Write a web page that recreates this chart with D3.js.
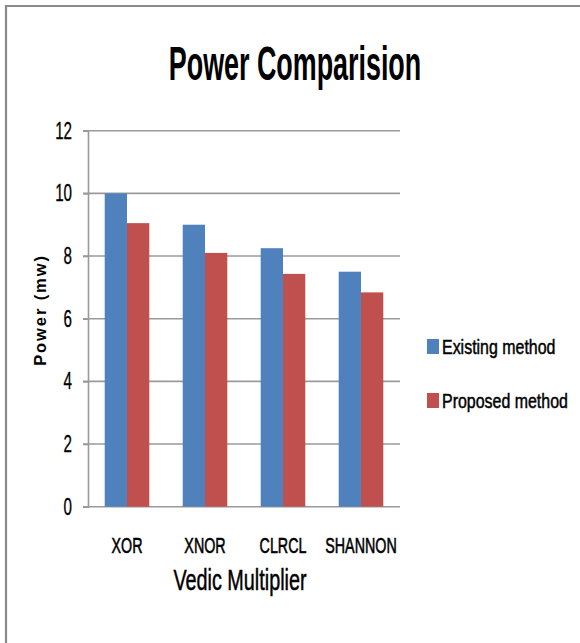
<!DOCTYPE html>
<html>
<head>
<meta charset="utf-8">
<script src="https://cdn.jsdelivr.net/npm/d3@7"></script>
<style>
  body { margin: 0; background: #fff; }
  text { font-family: "Liberation Sans", Arial, sans-serif; fill: #000; }
</style>
</head>
<body>
<div id="chart"></div>
<script>
// chart data
const categories = ["XOR", "XNOR", "CLRCL", "SHANNON"];
const seriesNames = ["Existing method", "Proposed method"];
const existing = [10, 9, 8.25, 7.5];
const proposed = [9.05, 8.1, 7.43, 6.84];
const yTicks = [0, 2, 4, 6, 8, 10, 12];
const colors = ["#4F81BD", "#C0504D"];

const width = 580;
const height = 643;
const margin = { top: 130.7, left: 88, bottom: 136.3, right: 180 };

const svg = d3.select("#chart").append("svg")
  .attr("width", width)
  .attr("height", height);

// the source picture is stretched vertically, so texts are squeezed in x
const label = (parent, x, y, k, txt) => parent.append("g")
  .attr("transform", `translate(${x},${y}) scale(${k},1)`)
  .append("text")
  .text(txt);

// outer frame
svg.append("path")
  .attr("d", "M6,650 L6,6 L590,6")
  .attr("fill", "none")
  .attr("stroke", "#8a8a8a")
  .attr("stroke-width", 2.2);

const x0 = d3.scaleBand().domain(categories).range([margin.left, width - margin.right]);
const x1 = d3.scaleBand().domain(seriesNames).range([0, x0.bandwidth()])
  .paddingInner(0).paddingOuter(0.75);
const y = d3.scaleLinear().domain([0, 12]).range([height - margin.bottom, margin.top]);

// gridlines
svg.append("g")
  .selectAll("line")
  .data(yTicks)
  .join("line")
  .attr("x1", margin.left - 5)
  .attr("x2", width - margin.right)
  .attr("y1", (d) => y(d))
  .attr("y2", (d) => y(d))
  .attr("stroke", "#9a9a9a")
  .attr("stroke-width", 1.6);

// bars
const data = categories.map((c, i) => ({ cat: c, vals: [existing[i], proposed[i]] }));
const groups = svg.append("g")
  .selectAll("g")
  .data(data)
  .join("g")
  .attr("transform", (d) => `translate(${x0(d.cat)},0)`);

groups.selectAll("rect")
  .data((d) => d.vals.map((v, j) => ({ s: seriesNames[j], v: v, j: j })))
  .join("rect")
  .attr("x", (d) => x1(d.s))
  .attr("width", x1.bandwidth())
  .attr("y", (d) => y(d.v))
  .attr("height", (d) => y(0) - y(d.v))
  .attr("fill", (d) => colors[d.j]);

// y axis
const tk = 0.66;
const yAxis = svg.append("g")
  .attr("transform", `translate(${margin.left},0)`)
  .call(d3.axisLeft(y).tickValues(yTicks).tickSize(5).tickPadding(11));
yAxis.select(".domain").attr("stroke", "#9a9a9a").attr("stroke-width", 1.6);
yAxis.selectAll(".tick line").attr("stroke", "#9a9a9a").attr("stroke-width", 1.6);
yAxis.selectAll(".tick text")
  .attr("font-size", 23)
  .attr("font-family", "Liberation Sans, Arial, sans-serif")
  .attr("fill", "#000")
  .attr("stroke", "#000")
  .attr("stroke-width", 0.3)
  .attr("x", -16 / tk)
  .attr("transform", `scale(${tk},1)`);

// x labels
const xl = svg.append("g");
categories.forEach((c) => {
  label(xl, x0(c) + x0.bandwidth() / 2, 553, 0.65, c)
    .attr("text-anchor", "middle")
    .attr("font-size", 22)
    .attr("stroke", "#000")
    .attr("stroke-width", 0.6);
});

// title
label(svg, 295, 80, 0.56, "Power Comparision")
  .attr("text-anchor", "middle")
  .attr("font-size", 48)
  .attr("font-weight", "bold");

// axis titles
label(svg, 240, 590, 0.66, "Vedic Multiplier")
  .attr("text-anchor", "middle")
  .attr("font-size", 30)
  .attr("stroke", "#000")
  .attr("stroke-width", 0.5);

svg.append("text")
  .attr("transform", "translate(46,310) rotate(-90)")
  .attr("text-anchor", "middle")
  .attr("font-family", "DejaVu Sans, sans-serif")
  .attr("font-size", 16.5)
  .attr("font-weight", "bold")
  .attr("letter-spacing", 1.9)
  .text("Power (mw)");

// legend
const legend = svg.append("g")
  .selectAll("g")
  .data(seriesNames)
  .join("g")
  .attr("transform", (d, i) => `translate(427,${339 + i * 54})`);
legend.append("rect")
  .attr("width", 12)
  .attr("height", 15)
  .attr("fill", (d, i) => colors[i]);
legend.each(function (d) {
  label(d3.select(this), 15, 15, 0.76, d)
    .attr("font-size", 21)
    .attr("stroke", "#000")
    .attr("stroke-width", 0.5);
});
</script>
</body>
</html>
